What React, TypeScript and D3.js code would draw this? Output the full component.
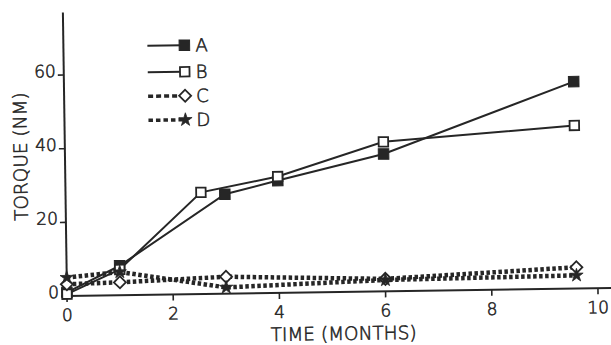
import React from "react";
import * as d3 from "d3";

// Torque measured over time for four groups
const monthsA = [0, 1, 3, 4, 6, 9.6];
const torqueA = [1, 8, 27, 30.5, 37.3, 56.2];
const monthsB = [0, 1, 2.55, 4, 6, 9.6];
const torqueB = [0.5, 7, 27.6, 31.6, 40.6, 44.3];
const monthsC = [0, 1, 3, 6, 9.6];
const torqueC = [3.2, 3.5, 4.6, 3.4, 5.8];
const monthsD = [0, 1, 3, 6, 9.6];
const torqueD = [5, 6.3, 1.7, 3.1, 3.6];

const seriesNames = ["A", "B", "C", "D"];
const xTicks = [0, 2, 4, 6, 8, 10];
const yTicks = [0, 20, 40, 60];

const W = 611;
const H = 345;
const INK = "#262626";
const FONT = "'DejaVu Sans', 'Open Sans', sans-serif";

type Kind = "filledSquare" | "openSquare" | "diamond" | "star";

function Marker({ kind, x, y }: { kind: Kind; x: number; y: number }) {
  if (kind === "filledSquare") {
    const p = d3.symbol().type(d3.symbolSquare).size(110)();
    return <path d={p || ""} transform={`translate(${x},${y})`} fill={INK} stroke={INK} strokeWidth={1} />;
  }
  if (kind === "openSquare") {
    const p = d3.symbol().type(d3.symbolSquare).size(90)();
    return <path d={p || ""} transform={`translate(${x},${y})`} fill="#fff" stroke={INK} strokeWidth={1.8} />;
  }
  if (kind === "diamond") {
    const p = d3.symbol().type(d3.symbolSquare).size(72)();
    return <path d={p || ""} transform={`translate(${x},${y}) rotate(45)`} fill="#fff" stroke={INK} strokeWidth={1.8} />;
  }
  const p = d3.symbol().type(d3.symbolStar).size(55)();
  return <path d={p || ""} transform={`translate(${x},${y})`} fill={INK} stroke={INK} strokeWidth={0.8} />;
}

export default function App() {
  const x = d3.scaleLinear().domain([0, 10]).range([67, 598]);
  const y = d3.scaleLinear().domain([0, 60]).range([296, 75]);

  const line = d3
    .line<[number, number]>()
    .x((d) => x(d[0]))
    .y((d) => y(d[1]));

  const series: { name: string; months: number[]; vals: number[]; kind: Kind; dashed: boolean }[] = [
    { name: seriesNames[0], months: monthsA, vals: torqueA, kind: "filledSquare", dashed: false },
    { name: seriesNames[1], months: monthsB, vals: torqueB, kind: "openSquare", dashed: false },
    { name: seriesNames[2], months: monthsC, vals: torqueC, kind: "diamond", dashed: true },
    { name: seriesNames[3], months: monthsD, vals: torqueD, kind: "star", dashed: true },
  ];

  const x0 = x(0);
  const y0 = y(0);
  const legendRows = [47, 73.5, 97.5, 121.5];

  // thin lettering, thickened slightly with an outline
  const textStyle = { fill: INK, stroke: INK, strokeWidth: 0.55 };

  return (
    <svg
      width={W}
      height={H}
      viewBox={`0 0 ${W} ${H}`}
      style={{ position: "absolute", left: 0, top: 0, background: "#fff" }}
      fontFamily={FONT}
      fontWeight={200}
    >
      <rect width={W} height={H} fill="#fff" />
      <g transform={`rotate(-0.83, ${x0}, ${y0})`}>
        {/* axes */}
        <line x1={x0} y1={y0} x2={x0} y2={y(77)} stroke={INK} strokeWidth={2} />
        <line x1={x0} y1={y0} x2={x(10.27)} y2={y0} stroke={INK} strokeWidth={2} />
        {yTicks.map((t) => (
          <g key={`y${t}`}>
            <line x1={x0 - 6} x2={x0} y1={y(t)} y2={y(t)} stroke={INK} strokeWidth={1.6} />
            <text x={x0 - 8} y={y(t) + 2} textAnchor="end" fontSize={17} style={textStyle}>
              {t}
            </text>
          </g>
        ))}
        {xTicks.map((t) => (
          <g key={`x${t}`}>
            <line x1={x(t)} x2={x(t)} y1={y0} y2={y0 + 6} stroke={INK} strokeWidth={1.6} />
            <text x={x(t)} y={y0 + 25} textAnchor="middle" fontSize={17} style={textStyle}>
              {t}
            </text>
          </g>
        ))}
        <text x={343} y={344} textAnchor="middle" fontSize={18.5} style={textStyle}>
          TIME (MONTHS)
        </text>
        <text
          transform={`translate(29,156) rotate(-90)`}
          textAnchor="middle"
          fontSize={18.5}
          style={textStyle}
        >
          TORQUE (NM)
        </text>

        {/* series lines */}
        {series.map((s) => (
          <path
            key={`l${s.name}`}
            d={line(s.months.map((m, i) => [m, s.vals[i]] as [number, number])) || ""}
            fill="none"
            stroke={INK}
            strokeWidth={s.dashed ? 4.5 : 2}
            strokeDasharray={s.dashed ? "3.5 2.5" : undefined}
          />
        ))}
        {/* series markers */}
        {series.map((s) =>
          s.months.map((m, i) => <Marker key={`m${s.name}${i}`} kind={s.kind} x={x(m)} y={y(s.vals[i])} />)
        )}

        {/* legend */}
        {series.map((s, i) => (
          <g key={`lg${s.name}`}>
            <line
              x1={151}
              x2={186}
              y1={legendRows[i]}
              y2={legendRows[i]}
              stroke={INK}
              strokeWidth={s.dashed ? 3.5 : 2}
              strokeDasharray={s.dashed ? (i === 2 ? "5 3" : "4.5 3") : undefined}
            />
            <Marker kind={s.kind} x={188} y={legendRows[i]} />
            <text x={199} y={legendRows[i] + 6.5} fontSize={18} style={textStyle}>
              {s.name}
            </text>
          </g>
        ))}
      </g>
    </svg>
  );
}
